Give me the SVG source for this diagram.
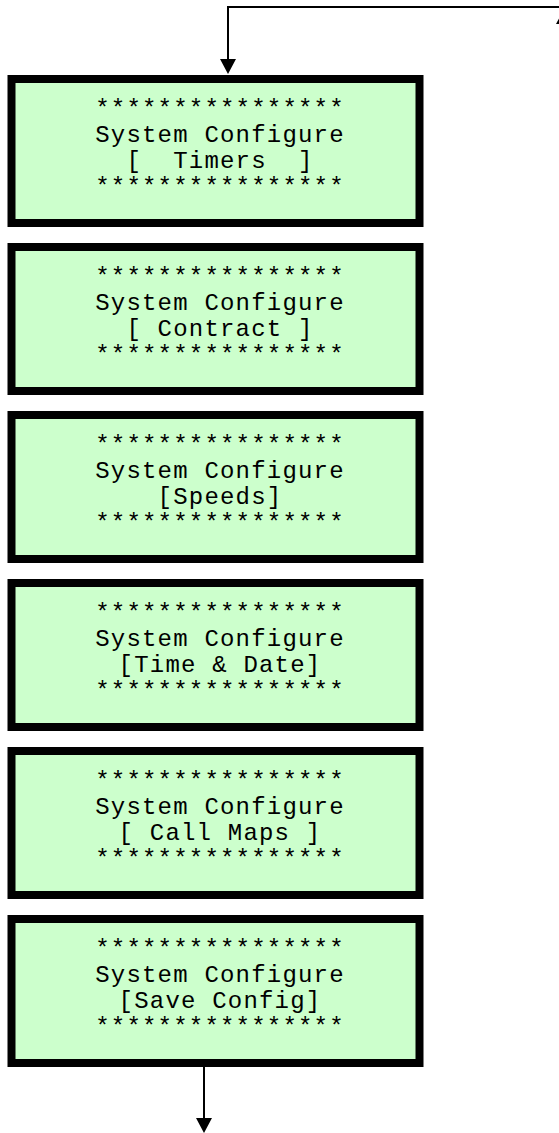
<svg xmlns="http://www.w3.org/2000/svg" width="559" height="1133" viewBox="0 0 559 1133">
<style>
.box{fill:#CCFFCC;stroke:#000;stroke-width:8}
.t{font-family:"Liberation Mono","Courier New",monospace;font-size:24px;letter-spacing:1.2px;fill:#000;text-anchor:middle;white-space:pre}
.ln{stroke:#000;stroke-width:2;fill:none}
.ah{fill:#000}
</style>
<g id="connectors">
<polyline class="ln" points="228,59 228,7 570,7"/>
<polygon class="ah" points="220,59 236,59 228,74"/>
<polygon class="ah" points="556,24 572,24 564,9"/>
<line class="ln" x1="204" y1="1067" x2="204" y2="1119"/>
<polygon class="ah" points="196,1118 212,1118 204,1133"/>
</g>
<g id="node1">
<rect class="box" x="11.5" y="79" width="408" height="144"/>
<text class="t" x="220" y="116">****************</text>
<text class="t" x="220" y="142">System Configure</text>
<text class="t" x="220" y="168" xml:space="preserve">[  Timers  ]</text>
<text class="t" x="220" y="194">****************</text>
</g>
<g id="node2">
<rect class="box" x="11.5" y="247" width="408" height="144"/>
<text class="t" x="220" y="284">****************</text>
<text class="t" x="220" y="310">System Configure</text>
<text class="t" x="220" y="336" xml:space="preserve">[ Contract ]</text>
<text class="t" x="220" y="362">****************</text>
</g>
<g id="node3">
<rect class="box" x="11.5" y="415" width="408" height="144"/>
<text class="t" x="220" y="452">****************</text>
<text class="t" x="220" y="478">System Configure</text>
<text class="t" x="220" y="504">[Speeds]</text>
<text class="t" x="220" y="530">****************</text>
</g>
<g id="node4">
<rect class="box" x="11.5" y="583" width="408" height="144"/>
<text class="t" x="220" y="620">****************</text>
<text class="t" x="220" y="646">System Configure</text>
<text class="t" x="220" y="672" xml:space="preserve">[Time &amp; Date]</text>
<text class="t" x="220" y="698">****************</text>
</g>
<g id="node5">
<rect class="box" x="11.5" y="751" width="408" height="144"/>
<text class="t" x="220" y="788">****************</text>
<text class="t" x="220" y="814">System Configure</text>
<text class="t" x="220" y="840" xml:space="preserve">[ Call Maps ]</text>
<text class="t" x="220" y="866">****************</text>
</g>
<g id="node6">
<rect class="box" x="11.5" y="919" width="408" height="144"/>
<text class="t" x="220" y="956">****************</text>
<text class="t" x="220" y="982">System Configure</text>
<text class="t" x="220" y="1008" xml:space="preserve">[Save Config]</text>
<text class="t" x="220" y="1034">****************</text>
</g>
</svg>
